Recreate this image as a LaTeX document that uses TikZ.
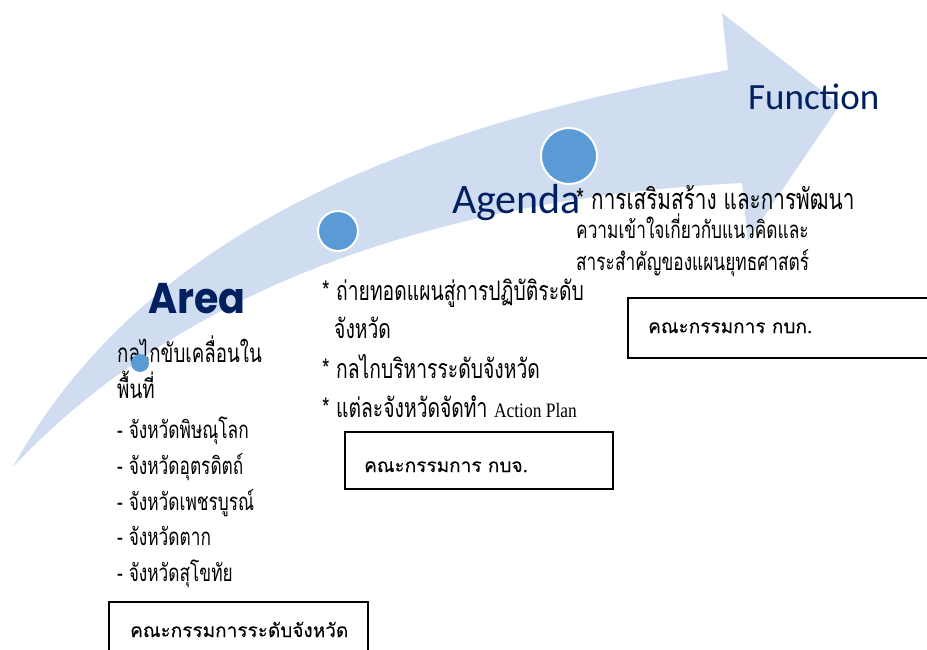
\documentclass[tikz,border=0pt]{standalone}
\usepackage{fontspec}
\newfontfamily\thaiw[Script=Thai,FakeBold=0.15]{Loma}
\newfontfamily\thaic[Script=Thai,FakeStretch=0.72]{Loma}
\newfontfamily\latserif[FakeStretch=0.85]{Liberation Serif}
\newfontfamily\carl{Carlito}
\newfontfamily\pop[FakeStretch=0.92]{Poppins}
\definecolor{band}{RGB}{208,221,240}
\definecolor{dot}{RGB}{91,155,213}
\definecolor{navy}{RGB}{0,32,96}
\tikzset{
  body/.style={anchor=base west, inner sep=0pt, font=\thaic\fontsize{24}{28}\selectfont},
  bodymid/.style={body, font=\thaic\fontsize{26.8}{30}\selectfont},
  bodybig/.style={body, font=\thaic\fontsize{26}{30}\selectfont},
  title/.style={anchor=base west, inner sep=0pt, text=navy},
  boxlabel/.style={anchor=base west, inner sep=0pt, font=\thaiw\fontsize{19}{23}\selectfont},
  frame/.style={draw=black, line width=1.2pt},
  bigdot/.style={circle, fill=dot, draw=white, line width=2pt, inner sep=0pt},
}
\begin{document}
\begin{tikzpicture}[x=1pt,y=-1pt]
\useasboundingbox (0,0) rectangle (927,650);
% curved arrow band
\fill[band] (13,467) .. controls (160,200) and (480,115) .. (728,70)
  -- (722,13) -- (840,105) -- (748,240) -- (742,183)
  .. controls (400,200) and (160,310) .. (13,467) -- cycle;
% dots
\node[bigdot, minimum size=40pt] (d2) at (338,231) {};
\node[bigdot, minimum size=56pt] (d3) at (569,156) {};
% titles
\node[title, font=\pop\bfseries\fontsize{43}{46}\selectfont] (area) at (148,313) {Area};
\node[title, font=\carl\fontsize{42}{46}\selectfont] (agenda) at (452,213) {Agenda};
\node[title, font=\carl\fontsize{37}{40}\selectfont] (func) at (748,110) {Function};
% area column
\node[bodybig] (a1) at (117,362) {กลไกขับเคลื่อนใน};
\node[bodybig] (a2) at (117,398) {พื้นที่};
\node[body] (a3) at (117,438) {- จังหวัดพิษณุโลก};
\node[body] (a4) at (117,474) {- จังหวัดอุตรดิตถ์};
\node[body] (a5) at (117,510) {- จังหวัดเพชรบูรณ์};
\node[body] (a6) at (117,545) {- จังหวัดตาก};
\node[body] (a7) at (117,581) {- จังหวัดสุโขทัย};
\node[circle, fill=dot, inner sep=0pt, minimum size=18pt] (d1) at (140,363) {};
% agenda column
\node[bodymid] (b1) at (322,300) {* ถ่ายทอดแผนสู่การปฏิบัติระดับ};
\node[bodymid] (b2) at (334,338) {จังหวัด};
\node[bodymid] (b3) at (322,378) {* กลไกบริหารระดับจังหวัด};
\node[bodymid] (b4) at (322,417) {* แต่ละจังหวัดจัดทำ {\latserif\fontsize{20.5}{22}\selectfont Action Plan}};
% function column
\node[body, font=\thaic\fontsize{28.8}{32}\selectfont] (c1) at (576,210) {* การเสริมสร้าง และการพัฒนา};
\node[body] (c2) at (576,238) {ความเข้าใจเกี่ยวกับแนวคิดและ};
\node[body] (c3) at (576,270) {สาระสำคัญของแผนยุทธศาสตร์};
% boxes
\draw[frame] (109,660) -- (109,602) -- (368,602) -- (368,660);
\node[boxlabel] (k1) at (130,637) {คณะกรรมการระดับจังหวัด};
\draw[frame] (345,432) rectangle (613,489);
\node[boxlabel] (k2) at (364,472) {คณะกรรมการ กบจ.};
\draw[frame] (940,298) -- (628,298) -- (628,358) -- (940,358);
\node[boxlabel] (k3) at (648,333) {คณะกรรมการ กบก.};
\end{tikzpicture}
\end{document}
